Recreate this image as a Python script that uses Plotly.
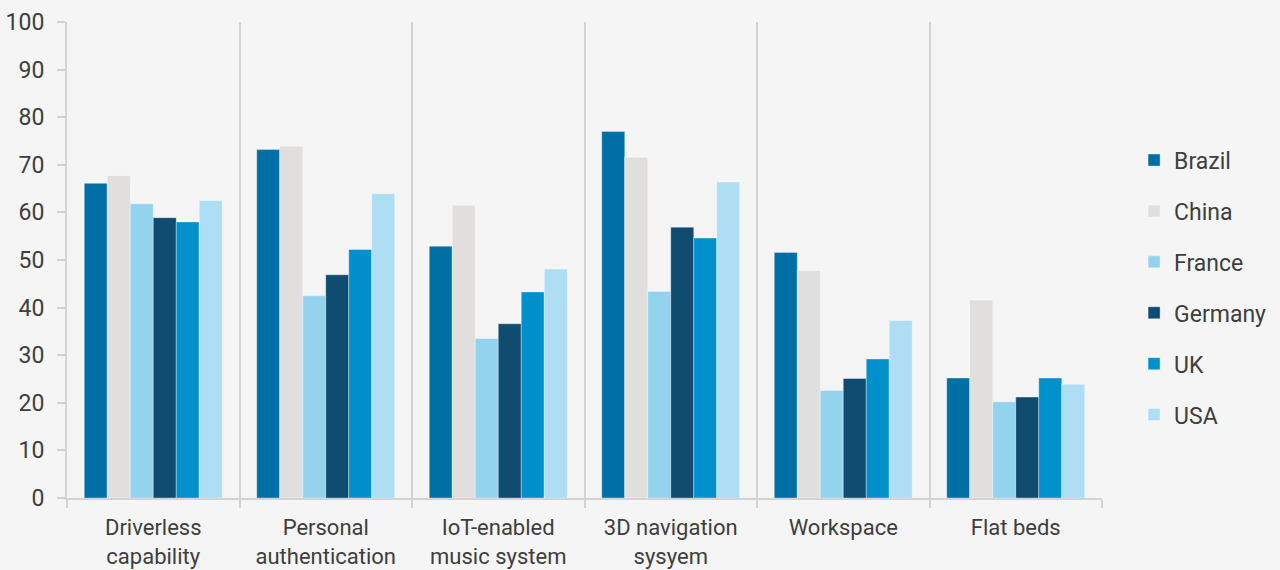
import plotly.graph_objects as go

# Categories (x axis)
features = [
    "Driverless<br>capability",
    "Personal<br>authentication",
    "IoT-enabled<br>music system",
    "3D navigation<br>sysyem",
    "Workspace",
    "Flat beds",
]

# Series values per country
brazil = [66.1, 73.2, 52.9, 77.0, 51.6, 25.2]
china = [67.7, 73.9, 61.5, 71.6, 47.8, 41.6]
france = [61.8, 42.5, 33.5, 43.4, 22.6, 20.2]
germany = [58.9, 46.9, 36.6, 56.9, 25.1, 21.2]
uk = [58.0, 52.2, 43.3, 54.6, 29.2, 25.2]
usa = [62.5, 63.9, 48.1, 66.4, 37.3, 23.9]

countries = ["Brazil", "China", "France", "Germany", "UK", "USA"]
series = [brazil, china, france, germany, uk, usa]
colors = ["#006fa6", "#e0dfdd", "#94d3ee", "#0f4c70", "#0091cd", "#addef4"]

y_ticks = [0, 10, 20, 30, 40, 50, 60, 70, 80, 90, 100]

TEXT = "#3e3e3e"
AXIS = "#d3d3d3"
BG = "#f5f5f5"
FONT_SIZE = 23

fig = go.Figure()
for name, vals, col in zip(countries, series, colors):
    fig.add_trace(go.Bar(
        x=features,
        y=vals,
        name=name,
        legendgroup=name,
        marker=dict(color=col, line=dict(color="rgba(255,255,255,0.35)", width=1)),
    ))

fig.update_layout(
    width=1280,
    height=570,
    paper_bgcolor=BG,
    plot_bgcolor=BG,
    margin=dict(l=67, r=178, t=22, b=72, autoexpand=False),
    barmode="group",
    bargap=0.2,
    bargroupgap=0,
    font=dict(family="Roboto, sans-serif", size=FONT_SIZE, color=TEXT),
    legend=dict(
        x=1.031, xanchor="left",
        y=0.442, yanchor="middle",
        font=dict(size=FONT_SIZE, color=TEXT),
        tracegroupgap=18,
        itemwidth=30,
        bgcolor="rgba(0,0,0,0)",
    ),
    showlegend=True,
)

fig.update_xaxes(
    automargin=False,
    tickson="boundaries",
    showgrid=True,
    gridcolor=AXIS,
    gridwidth=2,
    showline=True,
    linecolor=AXIS,
    linewidth=2,
    ticks="outside",
    ticklen=8,
    tickwidth=2,
    tickcolor=AXIS,
    ticklabelstandoff=9,
    tickfont=dict(size=22, color=TEXT),
)

fig.update_yaxes(
    automargin=False,
    range=[0, 100],
    tickvals=y_ticks,
    showgrid=False,
    zeroline=False,
    showline=True,
    linecolor=AXIS,
    linewidth=2,
    ticks="outside",
    ticklen=8,
    tickwidth=2,
    tickcolor=AXIS,
    ticklabelstandoff=8,
    tickfont=dict(size=FONT_SIZE, color=TEXT),
)

fig.write_html("out.html")
